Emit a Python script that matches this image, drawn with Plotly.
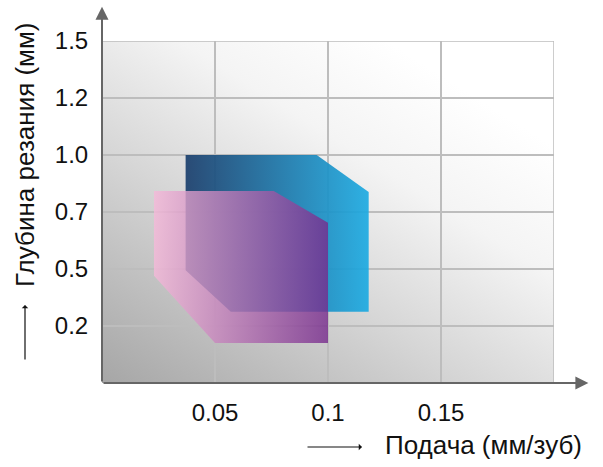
import base64
import plotly.graph_objects as go

# ---- data ----
x_tick_vals = [0.05, 0.1, 0.15, 0.2]
x_tick_text = ["0.05", "0.1", "0.15", ""]
y_tick_pos = [1, 2, 3, 4, 5, 6]
y_tick_text = ["0.2", "0.5", "0.7", "1.0", "1.2", "1.5"]

blue_x = [0.037, 0.095, 0.118, 0.118, 0.057, 0.037]
blue_y = [4.0, 4.0, 3.35, 1.25, 1.25, 1.98]

pink_x = [0.023, 0.076, 0.100, 0.100, 0.050, 0.023]
pink_y = [3.37, 3.37, 2.81, 0.70, 0.70, 1.88]

x_title = "Подача (мм/зуб)"
y_title = "Глубина резания (мм)"

FONT = "Liberation Sans, Arial, sans-serif"

fig = go.Figure()

fig.add_trace(go.Scatter(
    x=blue_x + [blue_x[0]], y=blue_y + [blue_y[0]],
    mode="lines", line=dict(width=0), fill="toself",
    fillgradient=dict(type="horizontal",
                      colorscale=[[0, "rgba(26,62,108,0.92)"], [1, "rgba(29,171,226,0.92)"]]),
    hoverinfo="skip", showlegend=False))

fig.add_trace(go.Scatter(
    x=pink_x + [pink_x[0]], y=pink_y + [pink_y[0]],
    mode="lines", line=dict(width=0), fill="toself",
    fillgradient=dict(type="horizontal",
                      colorscale=[[0, "rgba(245,185,217,0.8)"], [1, "rgba(118,42,140,0.8)"]]),
    hoverinfo="skip", showlegend=False))

svg = ('<svg xmlns="http://www.w3.org/2000/svg" width="452" height="342" viewBox="0 0 452 342" preserveAspectRatio="none">'
       '<defs><linearGradient id="g" x1="0" y1="1" x2="0.75" y2="0.1">'
       '<stop offset="0" stop-color="#a6a6a6"/>'
       '<stop offset="0.45" stop-color="#d6d6d6"/>'
       '<stop offset="0.75" stop-color="#f4f4f4"/>'
       '<stop offset="1" stop-color="#ffffff"/>'
       '</linearGradient></defs>'
       '<rect width="452" height="342" fill="url(#g)"/></svg>')
src = "data:image/svg+xml;base64," + base64.b64encode(svg.encode()).decode()

fig.update_layout(
    width=603, height=467,
    margin=dict(l=102, r=49, t=41, b=84),
    paper_bgcolor="white", plot_bgcolor="rgba(0,0,0,0)",
    font=dict(family=FONT, size=24, color="#111"),
    images=[dict(source=src, xref="paper", yref="paper", x=0, y=1,
                 sizex=1, sizey=1, sizing="stretch", layer="below",
                 xanchor="left", yanchor="top")],
    xaxis=dict(range=[0, 0.2], tickvals=x_tick_vals, ticktext=x_tick_text,
               showgrid=True, gridcolor="#bdbdbd", gridwidth=1.5,
               zeroline=False, showline=False,
               ticks="outside", ticklen=8, tickcolor="rgba(0,0,0,0)",
               tickfont=dict(size=24, color="#111"), fixedrange=True),
    yaxis=dict(range=[0, 6], tickvals=y_tick_pos, ticktext=y_tick_text,
               showgrid=True, gridcolor="#bdbdbd", gridwidth=1.5,
               zeroline=False, showline=False,
               ticks="outside", ticklen=8, tickcolor="rgba(0,0,0,0)",
               tickfont=dict(size=24, color="#111"), fixedrange=True),
    shapes=[
        dict(type="line", xref="x", yref="y", x0=0.2, x1=0.2, y0=0, y1=6,
             line=dict(color="#bdbdbd", width=1.5)),
        dict(type="line", xref="x", yref="y", x0=0, x1=0.2, y0=6, y1=6,
             line=dict(color="#bdbdbd", width=1.5)),
    ],
    annotations=[
        # axis arrows
        dict(xref="x", yref="y", axref="x", ayref="y", x=0.2152, y=0, ax=0, ay=0,
             text="", showarrow=True, arrowhead=2, arrowsize=1.3, arrowwidth=2,
             arrowcolor="#666666"),
        dict(xref="x", yref="y", axref="x", ayref="y", x=0, y=6.6, ax=0, ay=0,
             text="", showarrow=True, arrowhead=2, arrowsize=1.3, arrowwidth=2,
             arrowcolor="#666666"),
        # x title
        dict(xref="paper", yref="paper", x=(383 - 102) / 452, y=-(445 - 383) / 342,
             text=x_title, showarrow=False, xanchor="left", yanchor="middle",
             font=dict(size=26, color="#111")),
        dict(xref="paper", yref="paper", x=(362 - 102) / 452, y=-(447 - 383) / 342,
             ax=-56, ay=0, text="", showarrow=True, arrowhead=1, arrowsize=0.9,
             arrowwidth=1.2, arrowcolor="#111"),
        # y title
        dict(xref="paper", yref="paper", x=-(102 - 25) / 452, y=(383 - 155) / 342,
             text=y_title, textangle=-90, showarrow=False, xanchor="center",
             yanchor="middle", font=dict(size=26, color="#111")),
        dict(xref="paper", yref="paper", x=-(102 - 25) / 452, y=(383 - 305) / 342,
             ax=0, ay=56, text="", showarrow=True, arrowhead=1, arrowsize=0.9,
             arrowwidth=1.2, arrowcolor="#111"),
    ],
)

fig.write_html(
    "out.html",
    config={"displayModeBar": False},
    post_script="document.body.style.margin='0';document.body.style.overflow='hidden';",
)
